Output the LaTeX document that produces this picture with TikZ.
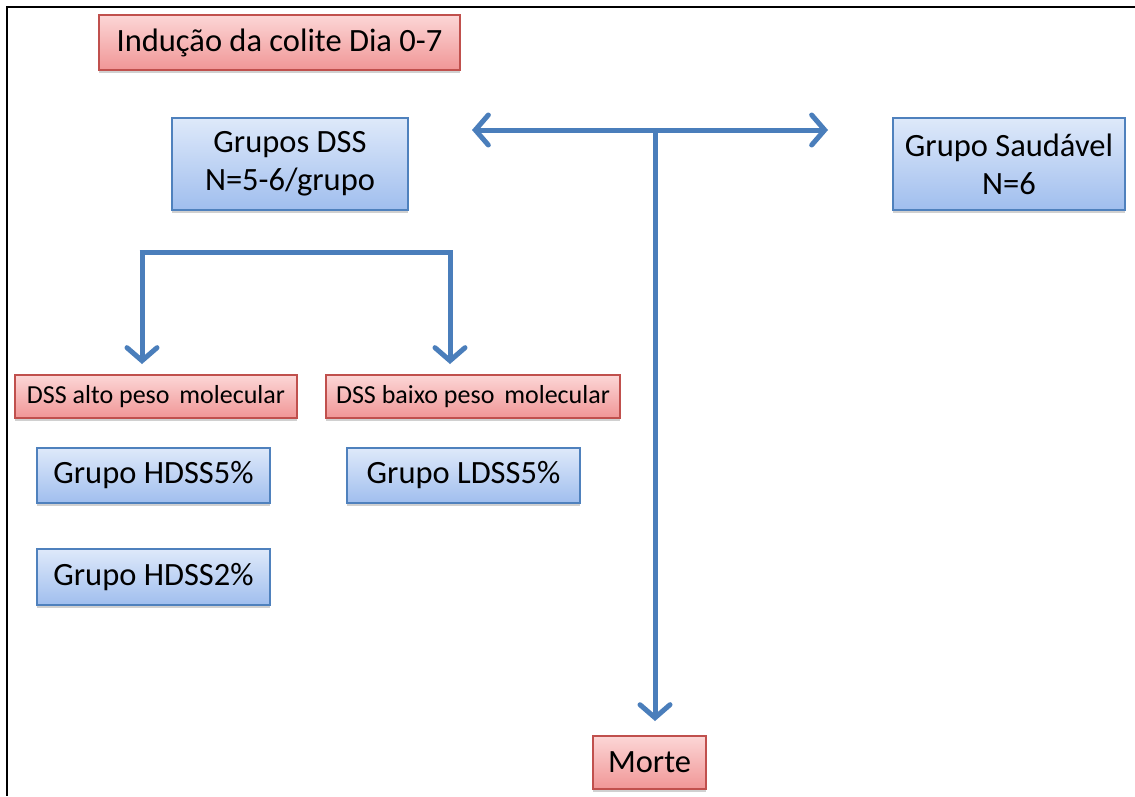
\documentclass[tikz,border=0pt]{standalone}
\usepackage{fontspec}
\setmainfont{Carlito}
\usetikzlibrary{arrows.meta,shadows}

\definecolor{flowline}{RGB}{74,126,187}
\definecolor{redtop}{RGB}{252,214,214}
\definecolor{redbot}{RGB}{240,150,150}
\definecolor{redrim}{RGB}{192,80,77}
\definecolor{bluetop}{RGB}{222,233,250}
\definecolor{bluebot}{RGB}{160,190,238}
\definecolor{bluerim}{RGB}{79,129,189}

\tikzset{
  chev/.tip={Straight Barb[length=13pt, width=30pt, line width=5pt, line cap=round]},
  boxbase/.style={rectangle, inner sep=0pt, align=center, line width=1.2pt,
    drop shadow={shadow xshift=0pt, shadow yshift=-3pt, opacity=0.3, fill=black!60}},
  redbox/.style={boxbase, draw=redrim, top color=redtop, bottom color=redbot},
  bluebox/.style={boxbase, draw=bluerim, top color=bluetop, bottom color=bluebot},
  bigtext/.style={font=\fontsize{32.5}{38}\selectfont},
  smalltext/.style={font=\fontsize{26}{30}\selectfont},
  flow/.style={draw=flowline, line width=5pt, -{chev}},
  flowboth/.style={draw=flowline, line width=5pt, {chev}-{chev}},
  plainline/.style={draw=flowline, line width=5pt},
}

\begin{document}
\begin{tikzpicture}[x=1pt, y=-1pt]
  \useasboundingbox (0,0) rectangle (1135,796);
  \fill[white] (0,0) rectangle (1135,796);

  % frame: top and left edges only
  \draw[line width=2pt] (1135,7) -- (7,7) -- (7,796);

  % boxes
  \node[redbox, bigtext, minimum width=361pt, minimum height=55pt] (induc) at (279.5,42.5) {Indução da colite Dia 0-7};
  \node[bluebox, bigtext, minimum width=236pt, minimum height=92pt] (dss) at (290,164) {Grupos DSS\\N=5-6/grupo};
  \node[bluebox, bigtext, minimum width=232pt, minimum height=92pt] (saud) at (1009,164) {Grupo Saudável\\N=6};

  \node[redbox, smalltext, minimum width=282pt, minimum height=43pt] (alto) at (156,396.5) {DSS alto peso\hspace{4pt} molecular};
  \node[redbox, smalltext, minimum width=294pt, minimum height=43pt] (baixo) at (473,396.5) {DSS baixo peso\hspace{4pt} molecular};

  \node[bluebox, bigtext, minimum width=233pt, minimum height=55pt] (h5) at (153.5,475.5) {Grupo HDSS5\%};
  \node[bluebox, bigtext, minimum width=233pt, minimum height=55pt] (l5) at (463.5,475.5) {Grupo LDSS5\%};
  \node[bluebox, bigtext, minimum width=233pt, minimum height=56pt] (h2) at (153.5,577) {Grupo HDSS2\%};

  \node[redbox, bigtext, minimum width=113pt, minimum height=53pt] (morte) at (649.5,762.5) {Morte};

  % junction points of the connectors
  \coordinate (tleft) at (472,130);
  \coordinate (tright) at (828,130);
  \coordinate (tjoin) at (655,130);
  \coordinate (tdown) at (655,721);

  \coordinate (bl) at (142,252);
  \coordinate (br) at (450,252);
  \coordinate (bltip) at (142,364);
  \coordinate (brtip) at (450,364);

  % connectors
  \draw[flowboth] (tleft) -- (tright);
  \draw[flow] (tjoin) -- (tdown);
  \draw[plainline] ([xshift=-2.5pt]bl) -- ([xshift=2.5pt]br);
  \draw[flow] (bl) -- (bltip);
  \draw[flow] (br) -- (brtip);
\end{tikzpicture}
\end{document}
